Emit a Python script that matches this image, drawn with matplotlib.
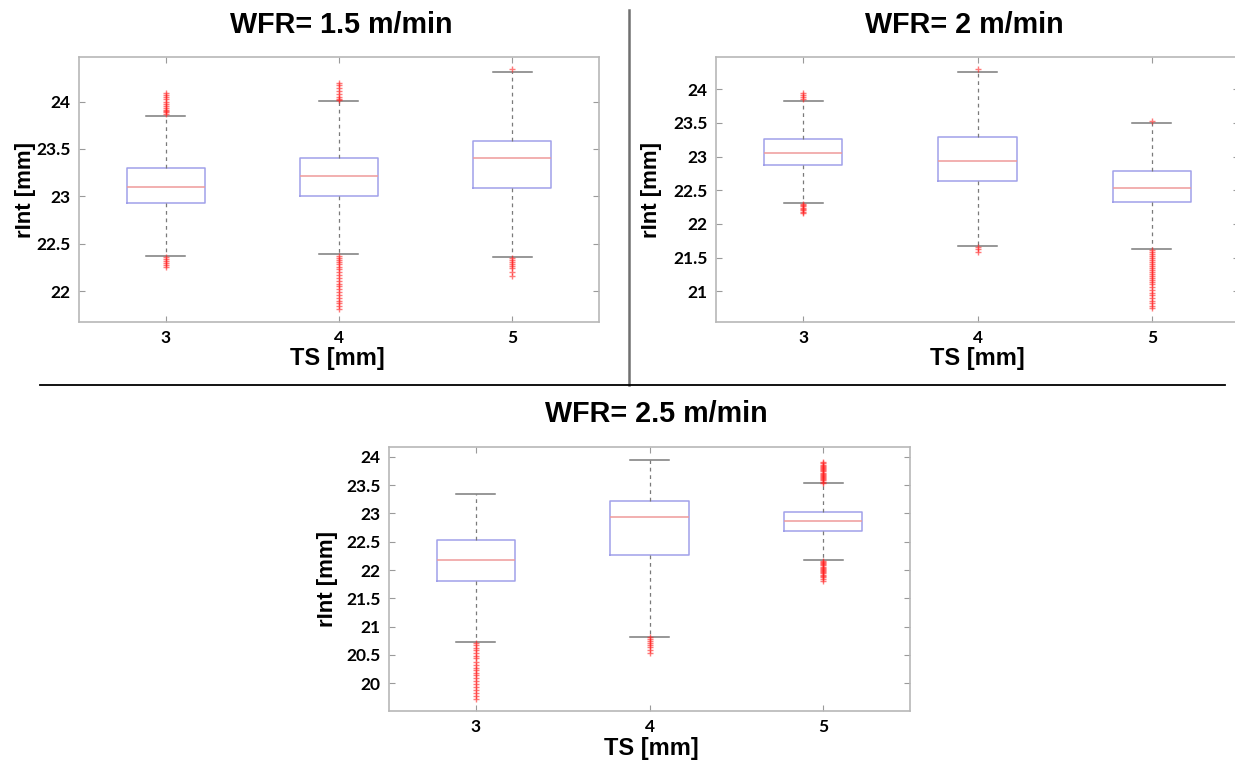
import matplotlib
matplotlib.use("Agg")
import matplotlib.pyplot as plt
from matplotlib.lines import Line2D

# ---- data: rInt [mm] box statistics per torch speed, one panel per WFR ----
ts_values = [3, 4, 5]

# WFR = 1.5 m/min
wfr15_med = [23.10, 23.22, 23.40]
wfr15_q1 = [22.93, 23.00, 23.09]
wfr15_q3 = [23.30, 23.40, 23.58]
wfr15_lo = [22.37, 22.39, 22.36]
wfr15_hi = [23.85, 24.01, 24.31]
wfr15_out = [
    [23.87, 23.89, 23.90, 23.91, 23.93, 23.95, 23.97, 24.00, 24.03, 24.05, 24.07, 24.09,
     22.36, 22.34, 22.32, 22.30, 22.28, 22.25],
    [24.02, 24.03, 24.05, 24.08, 24.11, 24.14, 24.17, 24.20,
     22.37, 22.35, 22.33, 22.31, 22.29, 22.26, 22.23, 22.20, 22.17, 22.14, 22.11, 22.08,
     22.05, 22.02, 21.99, 21.96, 21.93, 21.90, 21.87, 21.84, 21.81],
    [24.34, 22.35, 22.33, 22.31, 22.29, 22.27, 22.24, 22.20, 22.16],
]

# WFR = 2 m/min
wfr2_med = [23.06, 22.93, 22.54]
wfr2_q1 = [22.875, 22.64, 22.33]
wfr2_q3 = [23.26, 23.29, 22.79]
wfr2_lo = [22.31, 21.67, 21.625]
wfr2_hi = [23.82, 24.26, 23.50]
wfr2_out = [
    [23.85, 23.88, 23.92, 23.95, 22.30, 22.28, 22.26, 22.24, 22.22, 22.20, 22.18, 22.16],
    [24.30, 21.65, 21.62, 21.59],
    [23.53, 21.61, 21.58, 21.55, 21.52, 21.49, 21.46, 21.43, 21.40, 21.37, 21.34, 21.31,
     21.28, 21.25, 21.22, 21.19, 21.16, 21.13, 21.10, 21.06, 21.02, 20.98, 20.94, 20.90,
     20.86, 20.82, 20.78, 20.75],
]

# WFR = 2.5 m/min
wfr25_med = [22.17, 22.94, 22.86]
wfr25_q1 = [21.80, 22.26, 22.68]
wfr25_q3 = [22.525, 23.22, 23.02]
wfr25_lo = [20.73, 20.82, 22.17]
wfr25_hi = [23.34, 23.95, 23.53]
wfr25_out = [
    [20.71, 20.67, 20.63, 20.58, 20.53, 20.48, 20.44, 20.38, 20.32, 20.27, 20.23, 20.19,
     20.14, 20.09, 20.04, 19.99, 19.94, 19.88, 19.83, 19.78, 19.72],
    [20.81, 20.78, 20.75, 20.72, 20.68, 20.64, 20.58, 20.53],
    [23.54, 23.56, 23.58, 23.60, 23.62, 23.64, 23.66, 23.68, 23.70, 23.72, 23.74, 23.76,
     23.78, 23.80, 23.82, 23.84, 23.86, 23.88, 23.91,
     22.16, 22.14, 22.12, 22.10, 22.08, 22.06, 22.04, 22.02, 22.00, 21.98, 21.96, 21.94,
     21.92, 21.90, 21.87, 21.84, 21.80],
]

W, H = 1235, 762
fig = plt.figure(figsize=(W / 100, H / 100), dpi=100)
fig.patch.set_facecolor("white")

TICK_FONT = dict(family="Lato", weight="bold", size=12.5)
LABEL_FONT = dict(family="Liberation Sans", weight="bold")


def px_axes(left, right, top, bottom):
    return fig.add_axes([left / W, 1 - bottom / H, (right - left) / W, (bottom - top) / H])


def draw_panel(ax, med, q1, q3, lo, hi, out, ylim, yticks, yticklabels):
    stats = []
    for i in range(len(ts_values)):
        stats.append(dict(med=med[i], q1=q1[i], q3=q3[i],
                          whislo=lo[i], whishi=hi[i], fliers=out[i]))
    ax.bxp(stats, positions=ts_values, widths=0.45, showfliers=True,
           boxprops=dict(color="#a0a0ea", lw=1.1),
           medianprops=dict(color="#ef9a9a", lw=1.1),
           whiskerprops=dict(color="#7a7a7a", lw=0.9, linestyle=(0, (3, 3))),
           capprops=dict(color="#7a7a7a", lw=1.1),
           flierprops=dict(marker="+", markersize=5, markeredgecolor="#ff2020",
                           markeredgewidth=1.0, alpha=0.6, linestyle="none"))
    ax.set_xlim(2.5, 5.5)
    ax.set_ylim(*ylim)
    ax.set_yticks(yticks)
    ax.set_yticklabels(yticklabels, **TICK_FONT)
    ax.set_xticks(ts_values)
    ax.set_xticklabels([str(v) for v in ts_values], **TICK_FONT)
    ax.tick_params(direction="in", length=4, width=0.8, color="#9a9a9a",
                   top=True, right=True, pad=6)
    for s in ax.spines.values():
        s.set_color("#b8b8b8")
        s.set_linewidth(1.2)


ax1 = px_axes(79, 599, 57, 321.5)
draw_panel(ax1, wfr15_med, wfr15_q1, wfr15_q3, wfr15_lo, wfr15_hi, wfr15_out,
           (21.68, 24.47), [22, 22.5, 23, 23.5, 24], ["22", "22.5", "23", "23.5", "24"])

ax2 = px_axes(716, 1239, 57, 321.5)
draw_panel(ax2, wfr2_med, wfr2_q1, wfr2_q3, wfr2_lo, wfr2_hi, wfr2_out,
           (20.55, 24.48), [21, 21.5, 22, 22.5, 23, 23.5, 24],
           ["21", "21.5", "22", "22.5", "23", "23.5", "24"])

ax3 = px_axes(389, 910, 446.5, 710.5)
draw_panel(ax3, wfr25_med, wfr25_q1, wfr25_q3, wfr25_lo, wfr25_hi, wfr25_out,
           (19.52, 24.18), [20, 20.5, 21, 21.5, 22, 22.5, 23, 23.5, 24],
           ["20", "20.5", "21", "21.5", "22", "22.5", "23", "23.5", "24"])

# titles and axis labels placed in figure pixels
def fig_text(x, y, s, size, rotation=0):
    fig.text(x / W, 1 - y / H, s, ha="center", va="center", fontsize=size,
             rotation=rotation, **LABEL_FONT)

fig_text(341, 25, "WFR= 1.5 m/min", 20.7)
fig_text(964, 25, "WFR= 2 m/min", 20.7)
fig_text(656, 414, "WFR= 2.5 m/min", 20.7)

fig_text(337, 359, "TS [mm]", 17)
fig_text(977, 359, "TS [mm]", 17)
fig_text(651, 748, "TS [mm]", 17)

fig_text(25, 190, "rInt [mm]", 16, rotation=90)
fig_text(651, 190, "rInt [mm]", 16, rotation=90)
fig_text(327, 579, "rInt [mm]", 16, rotation=90)

# separators between panels
fig.add_artist(Line2D([629 / W, 629 / W], [1 - 10 / H, 1 - 385 / H],
                      color="#707070", lw=1.8))
fig.add_artist(Line2D([40 / W, 1225 / W], [1 - 385 / H, 1 - 385 / H],
                      color="black", lw=1.3))

fig.savefig("out.png", dpi=100)
